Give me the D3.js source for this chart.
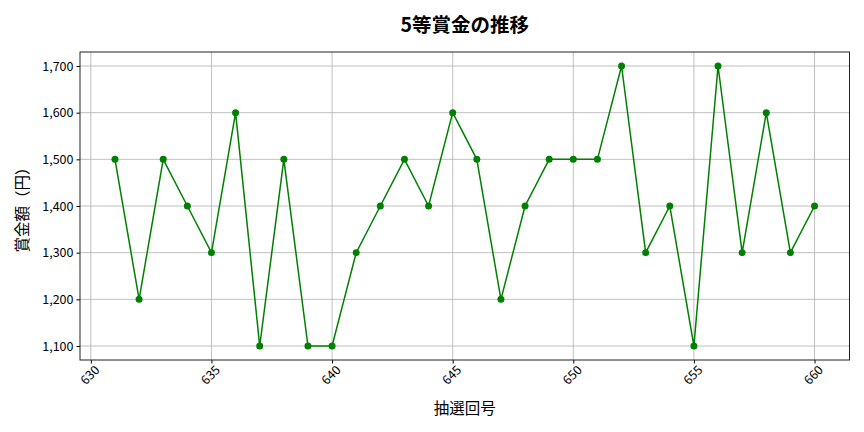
<!DOCTYPE html>
<html>
<head>
<meta charset="utf-8">
<script src="https://cdn.jsdelivr.net/npm/d3@7"></script>
<style>
  body { margin: 0; background: #fff; }
  text { font-family: "Noto Sans CJK JP", "DejaVu Sans", sans-serif; }
</style>
</head>
<body>
<div id="chart"></div>
<script>
// draw numbers and prize amounts (yen)
const draws = [631, 632, 633, 634, 635, 636, 637, 638, 639, 640,
               641, 642, 643, 644, 645, 646, 647, 648, 649, 650,
               651, 652, 653, 654, 655, 656, 657, 658, 659, 660];
const prizes = [1500, 1200, 1500, 1400, 1300, 1600, 1100, 1500, 1100, 1100,
                1300, 1400, 1500, 1400, 1600, 1500, 1200, 1400, 1500, 1500,
                1500, 1700, 1300, 1400, 1100, 1700, 1300, 1600, 1300, 1400];
const xTicks = [630, 635, 640, 645, 650, 655, 660];
const yTicks = [1100, 1200, 1300, 1400, 1500, 1600, 1700];

const chartTitle = "5等賞金の推移";
const xLabel = "抽選回号";
const yLabel = "賞金額（円）";

// set the dimensions and margins
let margin = {top: 52, right: 14.5, bottom: 72, left: 80},
    width = 864 - margin.left - margin.right,
    height = 432 - margin.top - margin.bottom;

const svg = d3.select("#chart")
  .append("svg")
  .attr("width", 864)
  .attr("height", 432)
  .append("g")
  .attr("transform", `translate(${margin.left},${margin.top})`);

// matplotlib style 5% padding
const xPad = (d3.max(draws) - d3.min(draws)) * 0.05;
const yPad = (d3.max(prizes) - d3.min(prizes)) * 0.05;

const x = d3.scaleLinear()
  .domain([d3.min(draws) - xPad, d3.max(draws) + xPad])
  .range([0, width]);

const y = d3.scaleLinear()
  .domain([d3.min(prizes) - yPad, d3.max(prizes) + yPad])
  .range([height, 0]);

// grid lines
svg.append("g")
  .selectAll("line")
  .data(xTicks)
  .join("line")
  .attr("x1", d => x(d)).attr("x2", d => x(d))
  .attr("y1", 0).attr("y2", height)
  .attr("stroke", "#b0b0b0")
  .attr("stroke-width", 0.8);

svg.append("g")
  .selectAll("line")
  .data(yTicks)
  .join("line")
  .attr("x1", 0).attr("x2", width)
  .attr("y1", d => y(d)).attr("y2", d => y(d))
  .attr("stroke", "#b0b0b0")
  .attr("stroke-width", 0.8);

// x axis
const xAxis = svg.append("g")
  .attr("transform", `translate(0,${height})`)
  .call(d3.axisBottom(x).tickValues(xTicks).tickFormat(d3.format("d")).tickSize(3.5).tickPadding(3));

xAxis.selectAll("text")
  .attr("font-size", 12.5)
  .attr("fill", "#000")
  .attr("text-anchor", "end")
  .attr("dx", "-0.1em")
  .attr("dy", "0.6em")
  .attr("transform", "rotate(-45)");

// y axis
const yAxis = svg.append("g")
  .call(d3.axisLeft(y).tickValues(yTicks).tickFormat(d3.format(",")).tickSize(3.5).tickPadding(3));

yAxis.selectAll("text")
  .attr("font-size", 12.5)
  .attr("fill", "#000");

svg.selectAll(".domain").remove();

// frame
svg.append("rect")
  .attr("width", width)
  .attr("height", height)
  .attr("fill", "none")
  .attr("stroke", "#222")
  .attr("stroke-width", 1);

// line
svg.append("path")
  .datum(draws)
  .attr("fill", "none")
  .attr("stroke", "green")
  .attr("stroke-width", 1.5)
  .attr("d", d3.line()
    .x(d => x(d))
    .y((d, i) => y(prizes[i])));

// markers
svg.append("g")
  .selectAll("circle")
  .data(draws)
  .join("circle")
  .attr("cx", d => x(d))
  .attr("cy", (d, i) => y(prizes[i]))
  .attr("r", 3.5)
  .attr("fill", "green");

// title
svg.append("text")
  .attr("x", width / 2)
  .attr("y", -20)
  .attr("text-anchor", "middle")
  .attr("font-size", 19.5)
  .attr("font-weight", "bold")
  .text(chartTitle);

// x label
svg.append("text")
  .attr("x", width / 2)
  .attr("y", height + 54)
  .attr("text-anchor", "middle")
  .attr("font-size", 15.5)
  .text(xLabel);

// y label
svg.append("text")
  .attr("transform", `translate(${-52},${height / 2}) rotate(-90)`)
  .attr("text-anchor", "middle")
  .attr("font-size", 15.5)
  .text(yLabel);
</script>
</body>
</html>
